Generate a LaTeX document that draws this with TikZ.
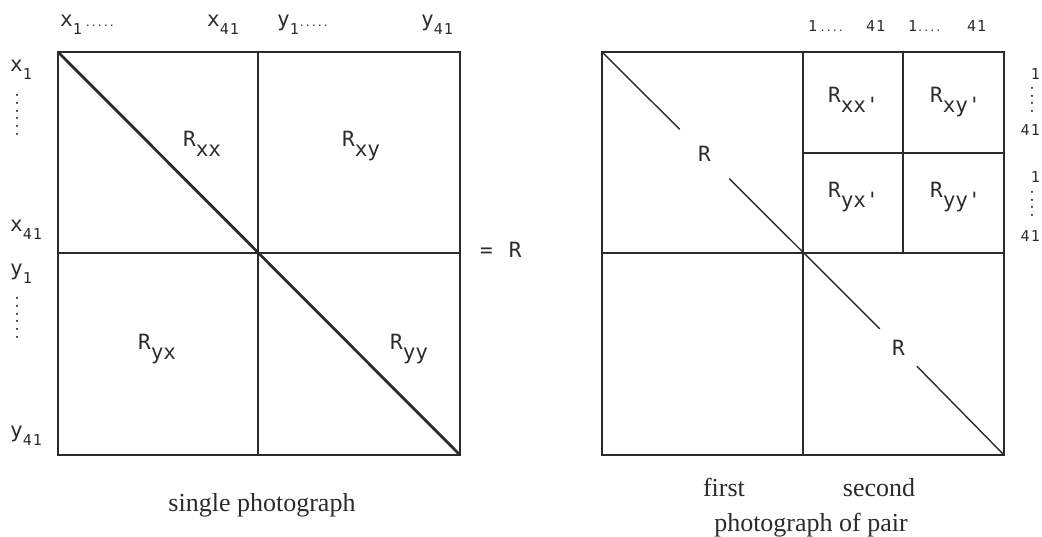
\documentclass[tikz,border=0pt]{standalone}
\usepackage{fontspec}
\usepackage{xcolor}
\usepackage{tikz}
\usetikzlibrary{positioning,calc}
\newfontfamily\typew{DejaVu Sans Mono}
\newfontfamily\capfont{Liberation Serif}
\definecolor{Ink}{HTML}{2B2B2B}
\newcommand\idx[1]{\raisebox{-8pt}{\fontsize{15}{15}\selectfont#1}}
\newcommand\sfx[1]{\raisebox{-10pt}{#1}}
\newcommand\dotrow[1]{{\fontsize{10}{10}\selectfont#1}}

\begin{document}
\begin{tikzpicture}[x=1pt,y=-1pt]
\tikzset{heavy/.style={line width=2.8pt,Ink,line cap=round}, light/.style={line width=1.4pt,Ink}, lbl/.style={font=\typew\fontsize{21}{21}\selectfont,text=Ink,inner sep=0pt,anchor=base west}, tick/.style={font=\typew\fontsize{15}{15}\selectfont,text=Ink,inner sep=0pt,anchor=base west}, vdots/.style={font=\typew\fontsize{13}{13}\selectfont,text=Ink,inner sep=0pt,rotate=-90}, caption/.style={font=\capfont\fontsize{26}{30}\selectfont,text=Ink,inner sep=0pt,anchor=base}, gap/.style={font=\typew\fontsize{21}{21}\selectfont,text=Ink,inner sep=0pt}}
\useasboundingbox (0,0) rectangle (1042,537);

% single photograph
\coordinate (a1) at (58,52); \coordinate (a2) at (460,455); \coordinate (am) at (258,253);
\draw[light] (58,253) -- (am) -- (258,455);
\draw[heavy] (a1) rectangle (a2);
\draw[heavy] (258,52) -- (am) -- (460,253);
\draw[heavy] (a1) -- (a2);
\node[lbl] (rxx) at (183,147) {R\sfx{xx}};
\node[lbl] (rxy) at (342,147) {R\sfx{xy}};
\node[lbl] (ryx) at (138,350) {R\sfx{yx}};
\node[lbl] (ryy) at (390,350) {R\sfx{yy}};
\node[lbl] (top1) at (60,27) {x\idx{1}\hspace{3pt}\dotrow{.....}};
\node[lbl] (top2) at (207,27) {x\idx{4\kern1pt 1}};
\node[lbl] (top3) at (277,27) {y\idx{1}\dotrow{.....}};
\node[lbl] (top4) at (421,27) {y\idx{4\kern1pt 1}};
\node[lbl] (side1) at (10,72) {x\idx{1}};
\node[vdots] (dots1) at (17,115) {......};
\node[lbl] (side2) at (10,232) {x\idx{4\kern1pt 1}};
\node[lbl] (side3) at (10,276) {y\idx{1}};
\node[vdots] (dots2) at (17,318) {......};
\node[lbl] (side4) at (10,437) {y\idx{4\kern1pt 1}};
\node[lbl] (eq) at (480,258) {=\hspace{16pt}R};
\node[caption] (cap1) at (262,511) {single photograph};

% photograph of pair
\coordinate (b1) at (602,52); \coordinate (b2) at (1004,455); \coordinate (bm) at (803,253);
\draw[light] (602,253) -- (bm) -- (803,455);
\draw[heavy] (b1) rectangle (b2);
\draw[heavy] (803,52) -- (bm) -- (1004,253);
\draw[heavy] (903,52) -- (903,253);
\draw[heavy] (803,153) -- (1004,153);
\node[gap,minimum size=49pt] (ra) at (704.5,154) {R};
\node[gap,minimum size=37pt] (rb) at (898.5,347.5) {R};
\draw[light] (b1) -- (ra);
\draw[light] (ra) -- (rb);
\draw[light] (rb) -- (b2);
\node[lbl] (qxx) at (828,103) {R\sfx{xx'}};
\node[lbl] (qxy) at (930,103) {R\sfx{xy'}};
\node[lbl] (qyx) at (828,198) {R\sfx{yx'}};
\node[lbl] (qyy) at (930,198) {R\sfx{yy'}};
\node[tick] (c1) at (808,32) {1\,\dotrow{....}};
\node[tick] (c2) at (866,32) {4\kern1pt 1};
\node[tick] (c3) at (908,32) {1\dotrow{....}};
\node[tick] (c4) at (967,32) {4\kern1pt 1};
\node[tick,anchor=base east] (d1) at (1040,80) {1};
\node[vdots] (dots3) at (1032,100) {....};
\node[tick,anchor=base east] (d2) at (1040,136) {4\kern1pt 1};
\node[tick,anchor=base east] (d3) at (1040,183) {1};
\node[vdots] (dots4) at (1032,204) {....};
\node[tick,anchor=base east] (d4) at (1040,242) {4\kern1pt 1};
\node[caption] (cap2) at (724,496) {first};
\node[caption] (cap3) at (879,496) {second};
\node[caption] (cap4) at (811,531) {photograph of pair};
\end{tikzpicture}
\end{document}
